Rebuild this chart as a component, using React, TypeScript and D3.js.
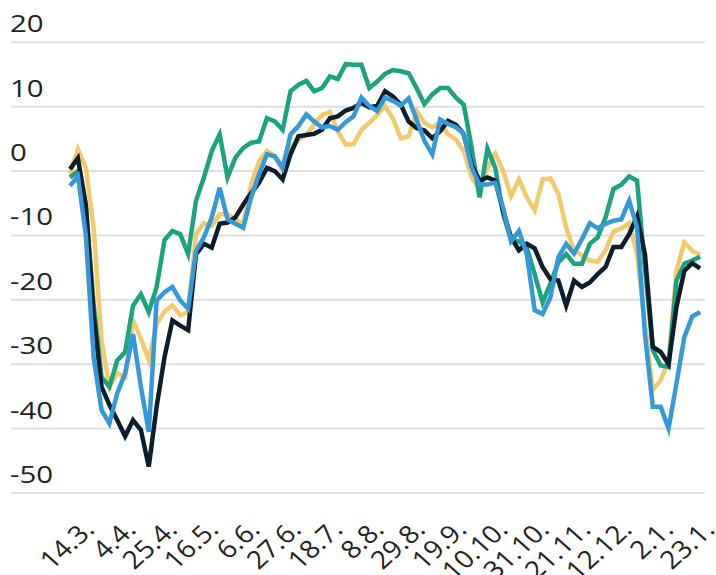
import React from "react";
import * as d3 from "d3";

const startDate = new Date(2020, 2, 14);
const stepDays = 4;

const yTicks = [20, 10, 0, -10, -20, -30, -40, -50];
const xTickLabels = ["14.3.", "4.4.", "25.4.", "16.5.", "6.6.", "27.6.", "18.7.", "8.8.", "29.8.", "19.9.", "10.10.", "31.10.", "21.11.", "12.12.", "2.1.", "23.1."];

const navy = [0.3, 2.0, -5.2, -22.2, -33.5, -36.3, -38.7, -41.2, -38.7, -40.2, -45.9, -36.6, -28.9, -23.2, -24.0, -24.7, -12.9, -11.3, -11.9, -8.2, -8.0, -7.2, -5.2, -3.4, -1.8, 0.5, 0.0, -1.3, 2.6, 5.4, 5.6, 5.8, 6.4, 8.2, 8.5, 9.4, 9.8, 10.6, 9.9, 10.1, 12.4, 11.6, 10.3, 7.7, 6.7, 6.3, 5.1, 6.2, 7.8, 7.2, 5.7, 1.0, -1.5, -1.0, -1.5, -6.2, -10.3, -12.3, -11.3, -12.0, -14.9, -16.8, -17.0, -20.9, -17.0, -18.0, -17.3, -16.0, -14.9, -11.8, -11.8, -9.8, -7.0, -12.9, -27.3, -28.1, -30.0, -21.1, -15.5, -14.3, -15.1];
const green = [-1.0, 0.0, -5.2, -20.6, -32.0, -33.5, -29.4, -28.1, -20.9, -19.1, -21.9, -18.0, -10.7, -9.3, -9.8, -12.9, -4.6, -1.0, 3.1, 5.7, -1.0, 2.1, 3.6, 4.4, 4.6, 8.2, 7.7, 6.4, 12.4, 13.4, 14.0, 12.4, 12.9, 14.7, 14.3, 16.6, 16.5, 16.5, 12.9, 13.9, 15.1, 15.7, 15.5, 15.2, 12.9, 10.4, 11.9, 12.9, 12.9, 11.4, 10.3, 3.6, -4.1, 3.5, 0.5, -6.7, -10.7, -10.9, -11.9, -16.0, -20.4, -17.5, -14.2, -12.9, -14.4, -14.4, -11.3, -10.3, -7.2, -2.8, -2.1, -0.8, -1.5, -15.0, -27.8, -30.2, -30.4, -17.0, -14.4, -13.9, -13.3];
const yellow = [-0.5, 3.4, 0.5, -8.8, -26.3, -33.5, -31.4, -32.0, -23.2, -26.0, -29.4, -23.7, -21.8, -20.9, -22.4, -21.9, -9.8, -8.1, -8.5, -6.7, -6.7, -7.5, -8.2, -2.1, 1.5, 3.1, 2.3, 0.0, 3.6, 4.9, 5.6, 7.3, 8.7, 9.2, 6.2, 4.1, 4.2, 6.4, 7.5, 8.7, 10.1, 8.2, 5.1, 5.4, 9.3, 7.5, 6.8, 7.5, 5.7, 4.9, 3.1, -1.0, -2.8, 0.5, 2.7, 0.0, -3.9, -1.3, -4.1, -6.1, -1.3, -1.1, -3.5, -8.8, -12.3, -13.1, -13.9, -14.1, -12.3, -9.4, -8.9, -8.1, -12.9, -23.7, -34.0, -32.5, -29.4, -15.5, -11.1, -12.4, -13.0];
const blue = [-2.3, -0.8, -9.8, -28.9, -37.1, -39.2, -34.5, -31.4, -25.3, -33.5, -40.5, -20.1, -18.8, -18.0, -20.1, -21.4, -12.4, -10.3, -7.2, -2.6, -7.5, -8.2, -8.8, -4.1, -0.5, 2.6, 2.3, 0.5, 5.7, 7.0, 8.8, 7.7, 6.8, 7.0, 6.4, 7.6, 8.5, 11.4, 10.1, 9.3, 11.4, 10.9, 10.2, 11.3, 8.0, 4.7, 2.6, 8.0, 7.3, 6.8, 5.8, 0.5, -2.1, -2.1, -1.8, -5.7, -10.9, -9.3, -12.9, -21.6, -22.2, -19.6, -13.4, -11.3, -12.8, -10.6, -8.1, -8.9, -8.2, -7.7, -7.5, -4.6, -8.8, -25.3, -36.6, -36.6, -40.0, -33.0, -25.8, -22.6, -21.9];

const seriesList = [
  { name: "yellow", values: yellow, color: "#f2c96d" },
  { name: "green", values: green, color: "#1ba37d" },
  { name: "navy", values: navy, color: "#0c1e2e" },
  { name: "blue", values: blue, color: "#3498db" },
];

const W = 716;
const H = 575;
const SX = 1.12;

export default function App() {
  const endDate = d3.timeDay.offset(startDate, 322);
  const x = d3.scaleTime().domain([startDate, endDate]).range([70, 704]);
  const y = d3.scaleLinear().domain([-50, 20]).range([493, 42.3]);
  const dateAt = (i: number) => d3.timeDay.offset(startDate, i * stepDays);
  const line = d3
    .line<number>()
    .x((_, i) => x(dateAt(i)))
    .y((v) => y(v));

  const fontFamily = "'Open Sans', 'Noto Sans', sans-serif";

  return (
    <svg width={W} height={H} style={{ position: "absolute", left: 0, top: 0, background: "#fff" }}>
      {yTicks.map((t) => (
        <g key={t}>
          <line x1={11} x2={705} y1={y(t)} y2={y(t)} stroke="#dfdfdf" strokeWidth={2} />
          <text
            transform={`translate(10,${y(t) - 10}) scale(1.2,1)`}
            fontSize={24.5}
            fill="#222"
            fontFamily={fontFamily}
          >
            {t}
          </text>
        </g>
      ))}
      {seriesList.map((s) => (
        <path key={s.name} d={line(s.values) || ""} fill="none" stroke={s.color} strokeWidth={4.5} strokeLinejoin="miter" />
      ))}
      {xTickLabels.map((lab, k) => {
        const tx = x(d3.timeDay.offset(startDate, k * 21)) + 26;
        return (
          <text
            key={lab}
            transform={`translate(${tx},531) scale(${SX},1) rotate(-45)`}
            textAnchor="end"
            fontSize={25}
            fill="#222"
            fontFamily={fontFamily}
          >
            {lab}
          </text>
        );
      })}
    </svg>
  );
}
